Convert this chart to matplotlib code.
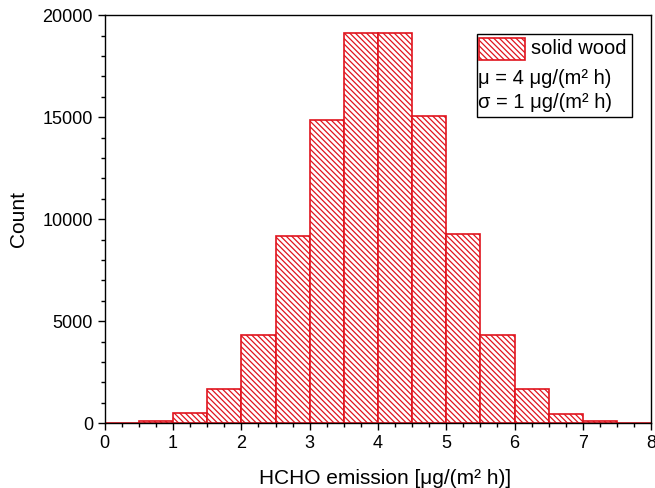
import numpy as np
import matplotlib.pyplot as plt
from matplotlib.patches import Rectangle
from matplotlib.ticker import MultipleLocator

# bin edges and counts
bin_edges = np.arange(0, 8.01, 0.5)
counts = [5, 85, 505, 1670, 4310, 9170, 14860, 19120,
          19100, 15060, 9260, 4310, 1680, 470, 110, 8]
legend_labels = ["solid wood", "μ = 4 μg/(m² h)", "σ = 1 μg/(m² h)"]

plt.rcParams['font.family'] = ['Liberation Sans', 'DejaVu Sans']
plt.rcParams['hatch.linewidth'] = 0.9

red = '#e0141e'
hatch = '\\' * 6

fig = plt.figure(figsize=(6.55, 4.88), dpi=100)
ax = fig.add_axes([0.160, 0.133, 0.834, 0.836])

ax.bar(bin_edges[:-1], counts, width=0.5, align='edge', color='white',
       edgecolor=red, hatch=hatch, linewidth=1.2)

ax.set_xlim(0, 8)
ax.set_ylim(0, 20000)
ax.xaxis.set_major_locator(MultipleLocator(1))
ax.xaxis.set_minor_locator(MultipleLocator(0.25))
ax.yaxis.set_major_locator(MultipleLocator(5000))
ax.yaxis.set_minor_locator(MultipleLocator(1000))
ax.tick_params(which='both', direction='out', top=False, right=False, labelsize=13)
ax.tick_params(which='major', length=5, width=1)
ax.tick_params(which='minor', length=3, width=1)
for s in ax.spines.values():
    s.set_linewidth(1)

ax.set_xlabel("HCHO emission [μg/(m² h)]", fontsize=15)
ax.set_ylabel("Count", fontsize=15)
ax.xaxis.set_label_coords(0.513, -0.112)
ax.yaxis.set_label_coords(-0.141, 0.5)

# legend box drawn by hand so the extra lines start at the box edge
def px(x, y):
    return (x / 655, 1 - y / 488)

x0, y0 = px(477, 117)
x1, y1 = px(632, 34)
fig.add_artist(Rectangle((x0, y0), x1 - x0, y1 - y0, transform=fig.transFigure,
                         facecolor='white', edgecolor='black', linewidth=1, zorder=5))
hx0, hy0 = px(479, 60)
hx1, hy1 = px(525, 38)
fig.add_artist(Rectangle((hx0, hy0), hx1 - hx0, hy1 - hy0, transform=fig.transFigure,
                         facecolor='white', edgecolor=red, hatch=hatch,
                         linewidth=1.2, zorder=6))
fig.text(*px(531, 49), legend_labels[0], fontsize=14.5, va='center', zorder=7)
fig.text(*px(478, 78), legend_labels[1], fontsize=14.5, va='center', zorder=7)
fig.text(*px(478, 103), legend_labels[2], fontsize=14.5, va='center', zorder=7)

fig.savefig("out.png", dpi=100)
